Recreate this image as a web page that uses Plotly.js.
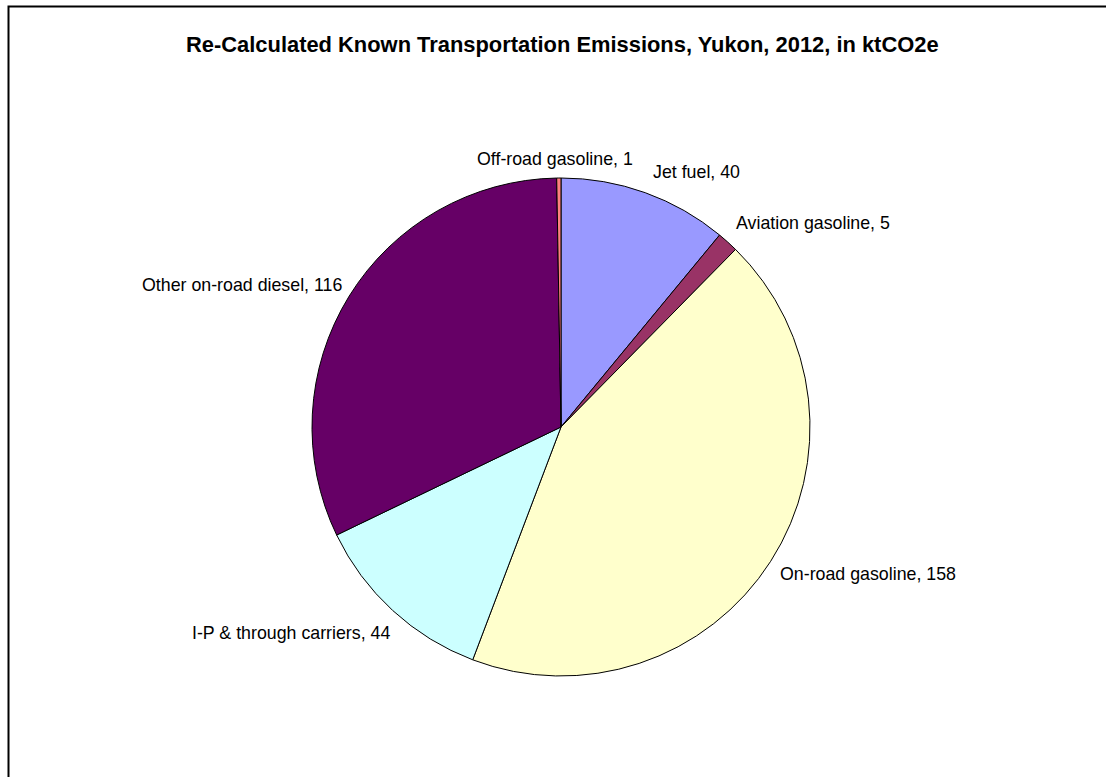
<!DOCTYPE html>
<html>
<head>
<meta charset="utf-8">
<script src="https://cdn.plot.ly/plotly-3.0.1.min.js"></script>
<style>
html,body{margin:0;padding:0;background:#fff;}
#chart{width:1106px;height:777px;}
</style>
</head>
<body>
<div id="chart"></div>
<script>
// Data
const categories = ["Jet fuel", "Aviation gasoline", "On-road gasoline", "I-P & through carriers", "Other on-road diesel", "Off-road gasoline"];
const values = [40, 5, 158, 44, 116, 1];
const colors = ["#9999FF", "#993366", "#FFFFCC", "#CCFFFF", "#660066", "#FF8080"];
const titleText = "Re-Calculated Known Transportation Emissions, Yukon, 2012, in ktCO2e";

// Label placement (pixel centres in the 1106x777 figure)
const labelPos = [[696, 172], [813, 223], [868, 574], [291, 633], [242, 285], [555, 159]];

const W = 1106, H = 777;
const cx = 561, cy = 427, r = 249;

const annotations = categories.map((c, i) => ({
  text: c + ", " + values[i],
  x: labelPos[i][0] / W,
  y: 1 - labelPos[i][1] / H,
  xref: "paper", yref: "paper",
  xanchor: "center", yanchor: "middle",
  showarrow: false,
  font: {family: "Liberation Sans, Arial, sans-serif", size: 17.8, color: "#000"}
}));

annotations.push({
  text: "<b>" + titleText + "</b>",
  x: 562 / W, y: 1 - 45 / H,
  xref: "paper", yref: "paper",
  xanchor: "center", yanchor: "middle",
  showarrow: false,
  font: {family: "Liberation Sans, Arial, sans-serif", size: 21.9, color: "#000"}
});

const trace = {
  type: "pie",
  labels: categories,
  values: values,
  sort: false,
  direction: "clockwise",
  rotation: 0,
  textinfo: "none",
  hoverinfo: "label+value",
  marker: {colors: colors, line: {color: "#000", width: 1}},
  domain: {x: [(cx - r) / W, (cx + r) / W], y: [(H - cy - r) / H, (H - cy + r) / H]},
  showlegend: false
};

const layout = {
  width: W, height: H,
  margin: {l: 0, r: 0, t: 0, b: 0},
  paper_bgcolor: "#fff",
  showlegend: false,
  annotations: annotations,
  shapes: [{
    type: "rect", xref: "paper", yref: "paper",
    x0: 8.5 / W, x1: 1.01, y0: -0.01, y1: 1 - 6.5 / H,
    line: {color: "#000", width: 2}
  }]
};

Plotly.newPlot("chart", [trace], layout, {displayModeBar: false, staticPlot: true});
</script>
</body>
</html>
